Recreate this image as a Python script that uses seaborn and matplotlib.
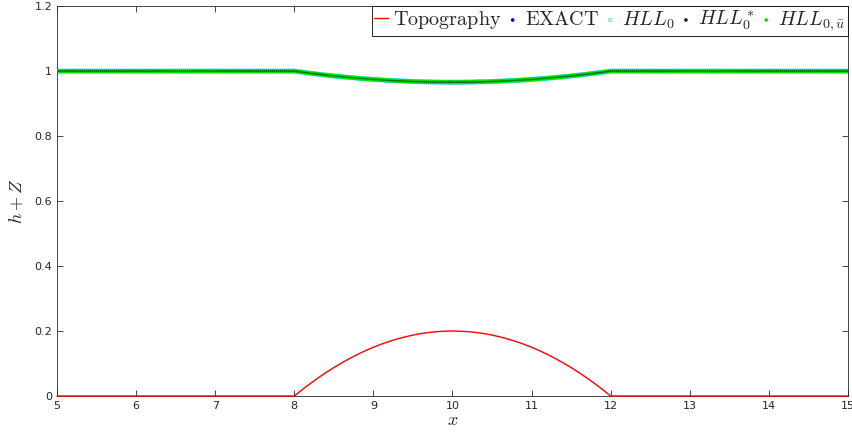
import numpy as np
import pandas as pd
import matplotlib
matplotlib.use("Agg")
import matplotlib.pyplot as plt
import seaborn as sns
from matplotlib.collections import PathCollection

# topography Z(x) (bump between x=8 and x=12)
bump_half = [0.0, 0.0195, 0.038, 0.0555, 0.072, 0.0875, 0.102, 0.1155, 0.128, 0.1395,
             0.15, 0.1595, 0.168, 0.1755, 0.182, 0.1875, 0.192, 0.1955, 0.198, 0.1995,
             0.2]
topo_x = [5.0] + list(np.round(np.arange(8.0, 12.0001, 0.1), 2)) + [15.0]
topo_z = [0.0] + bump_half + bump_half[-2::-1] + [0.0]

# free surface h+Z, sampled every 0.025 from x=5 to x=15
x_nodes = np.round(np.arange(5.0, 15.0001, 0.025), 3)
dip_half = [1.0, 0.9992, 0.9983, 0.9975, 0.9967, 0.9959, 0.9951, 0.9943, 0.9935, 0.9928,
            0.9920, 0.9913, 0.9906, 0.9898, 0.9891, 0.9884, 0.9878, 0.9871, 0.9864, 0.9858,
            0.9851, 0.9845, 0.9839, 0.9833, 0.9827, 0.9821, 0.9815, 0.9809, 0.9804, 0.9798,
            0.9793, 0.9788, 0.9782, 0.9777, 0.9772, 0.9768, 0.9763, 0.9758, 0.9754, 0.9749,
            0.9745, 0.9741, 0.9737, 0.9733, 0.9729, 0.9725, 0.9721, 0.9718, 0.9714, 0.9711,
            0.9708, 0.9705, 0.9702, 0.9699, 0.9696, 0.9693, 0.9691, 0.9688, 0.9686, 0.9683,
            0.9681, 0.9679, 0.9677, 0.9675, 0.9674, 0.9672, 0.9670, 0.9669, 0.9668, 0.9666,
            0.9665, 0.9664, 0.9663, 0.9663, 0.9662, 0.9661, 0.9661, 0.9660, 0.9660, 0.9660,
            0.9660]
exact = [1.0] * 120 + dip_half + dip_half[-2::-1] + [1.0] * 120
hll0 = exact
hll0_star = exact
hll0_ubar = exact

sns.set_style("ticks")
plt.rcParams["mathtext.fontset"] = "cm"
plt.rcParams["xtick.direction"] = "in"
plt.rcParams["ytick.direction"] = "in"

fig = plt.figure(figsize=(8.53, 4.37), dpi=100)
ax = fig.add_axes([0.0668, 0.0938, 0.9272, 0.8922])

sns.lineplot(x=topo_x, y=topo_z, color="red", lw=1.0, ax=ax, label=r"$\mathrm{Topography}$",
             clip_on=False, zorder=5)
sns.scatterplot(x=x_nodes, y=exact, color="blue", s=5, marker="o", edgecolor="none",
                ax=ax, label=r"$\mathrm{EXACT}$")
ax.scatter(x_nodes, hll0, s=10, marker="o", facecolor="none", edgecolor="#00dddd",
           linewidth=0.4, label=r"$HLL_0$")
sns.scatterplot(x=x_nodes, y=hll0_ubar, color="#00e600", s=9, marker="o", edgecolor="none",
                ax=ax, label=r"$HLL_{0,\bar{u}}$", zorder=3)
sns.scatterplot(x=x_nodes, y=hll0_star, color="#222222", s=1.5, marker="o",
                edgecolor="none", ax=ax, label=r"$HLL_0^*$", zorder=4, alpha=0.8)

ax.set_xlim(5, 15)
ax.set_ylim(0, 1.2)
ax.set_xticks(range(5, 16))
ax.set_yticks([0, 0.2, 0.4, 0.6, 0.8, 1.0, 1.2])
ax.set_yticklabels(["0", "0.2", "0.4", "0.6", "0.8", "1", "1.2"])
ax.tick_params(labelsize=8, length=4, width=0.6, top=True, right=True, color="#262626")
for sp in ax.spines.values():
    sp.set_linewidth(0.6)
    sp.set_color("#262626")
ax.set_xlabel(r"$x$", fontsize=13, labelpad=0)
ax.set_ylabel(r"$h+Z$", fontsize=13, labelpad=6)

# legend order as in the reference
handles, labels = ax.get_legend_handles_labels()
order = [0, 1, 2, 4, 3]
leg = ax.legend([handles[i] for i in order], [labels[i] for i in order],
                loc="upper right", ncol=5, fontsize=14.5, frameon=True, fancybox=False,
                framealpha=1, edgecolor="black", borderaxespad=0, handlelength=0.7,
                handletextpad=0.25, columnspacing=0.2, borderpad=0.12)
leg.get_frame().set_linewidth(0.6)
leg.set_zorder(10)
circle = matplotlib.markers.MarkerStyle("o")
for h in leg.legend_handles:
    if isinstance(h, PathCollection):
        h.set_sizes([7])
        h.set_alpha(1)
        h.set_paths([circle.get_path().transformed(circle.get_transform())])

fig.savefig("out.png", dpi=100)
